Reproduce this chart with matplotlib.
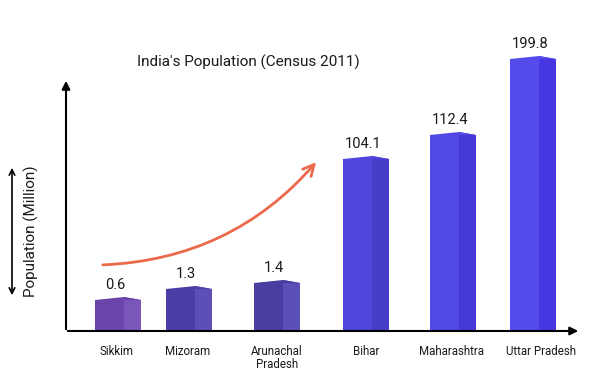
import matplotlib.pyplot as plt
from matplotlib.patches import Polygon

# Data (bars in the original are illustrative, not to scale)
states = ['Sikkim', 'Mizoram', 'Arunachal\nPradesh', 'Bihar', 'Maharashtra', 'Uttar Pradesh']
population = [0.6, 1.3, 1.4, 104.1, 112.4, 199.8]
bar_heights = [33, 44, 50, 174, 198, 274]

# Layout / style
bar_left = [95, 166, 254, 343, 430, 510]
label_x = [117, 188, 277, 366, 452, 541]
front_w = 29
side_w = 17
front_colors = ['#6a44aa', '#4b3fa5', '#4a3da2', '#5046dc', '#5248e4', '#554beb']
side_colors = ['#7a56b8', '#5c50b6', '#5b50b8', '#463cc8', '#4639d8', '#4637e1']

plt.rcParams['font.family'] = ['Roboto', 'DejaVu Sans']

fig = plt.figure(figsize=(6, 3.89), dpi=100)
ax = fig.add_axes([0, 0, 1, 1])
ax.set_xlim(0, 600)
ax.set_ylim(-58, 331)
ax.axis('off')

for x0, h, fc, sc, val in zip(bar_left, bar_heights, front_colors, side_colors, population):
    ax.bar(x0, h - 2, width=front_w, align='edge', color=fc, linewidth=0)
    ax.add_patch(Polygon([(x0 + front_w, 0), (x0 + front_w + side_w, 0),
                          (x0 + front_w + side_w, h - 2), (x0 + front_w, h + 1)],
                         closed=True, color=sc, linewidth=0))
    ax.add_patch(Polygon([(x0, h - 2), (x0 + front_w, h + 1), (x0 + front_w + side_w, h - 2)],
                         closed=True, color=fc, linewidth=0))
    ax.text(x0 + 20, h + 6, f'{val:g}', ha='center', va='bottom', fontsize=10.5,
            color='#1a1a1a')

for lx, name in zip(label_x, states):
    ax.text(lx, -14, name, ha='center', va='top', fontsize=8.3, color='#1a1a1a',
            linespacing=1.0)

# axes arrows
ax.annotate('', xy=(66, 253), xytext=(66, -1),
            arrowprops=dict(arrowstyle='-|>', color='black', lw=1.5, mutation_scale=12))
ax.annotate('', xy=(581, 0), xytext=(65, 0),
            arrowprops=dict(arrowstyle='-|>', color='black', lw=1.5, mutation_scale=12))

# left double arrow and label
ax.annotate('', xy=(12, 166), xytext=(12, 33),
            arrowprops=dict(arrowstyle='<->', color='black', lw=1.2, mutation_scale=10))
ax.text(31, 100, 'Population (Million)', rotation=90, ha='center', va='center',
        fontsize=11, color='#1a1a1a')

# trend arrow
ax.annotate('', xy=(318, 171), xytext=(100, 66),
            arrowprops=dict(arrowstyle='->', color='#ec6a4c', lw=2, mutation_scale=20,
                            connectionstyle='arc3,rad=0.22'))

ax.text(248, 269, "India's Population (Census 2011)", ha='center', va='center',
        fontsize=11, color='#1a1a1a')

fig.savefig('out.png', dpi=100)
